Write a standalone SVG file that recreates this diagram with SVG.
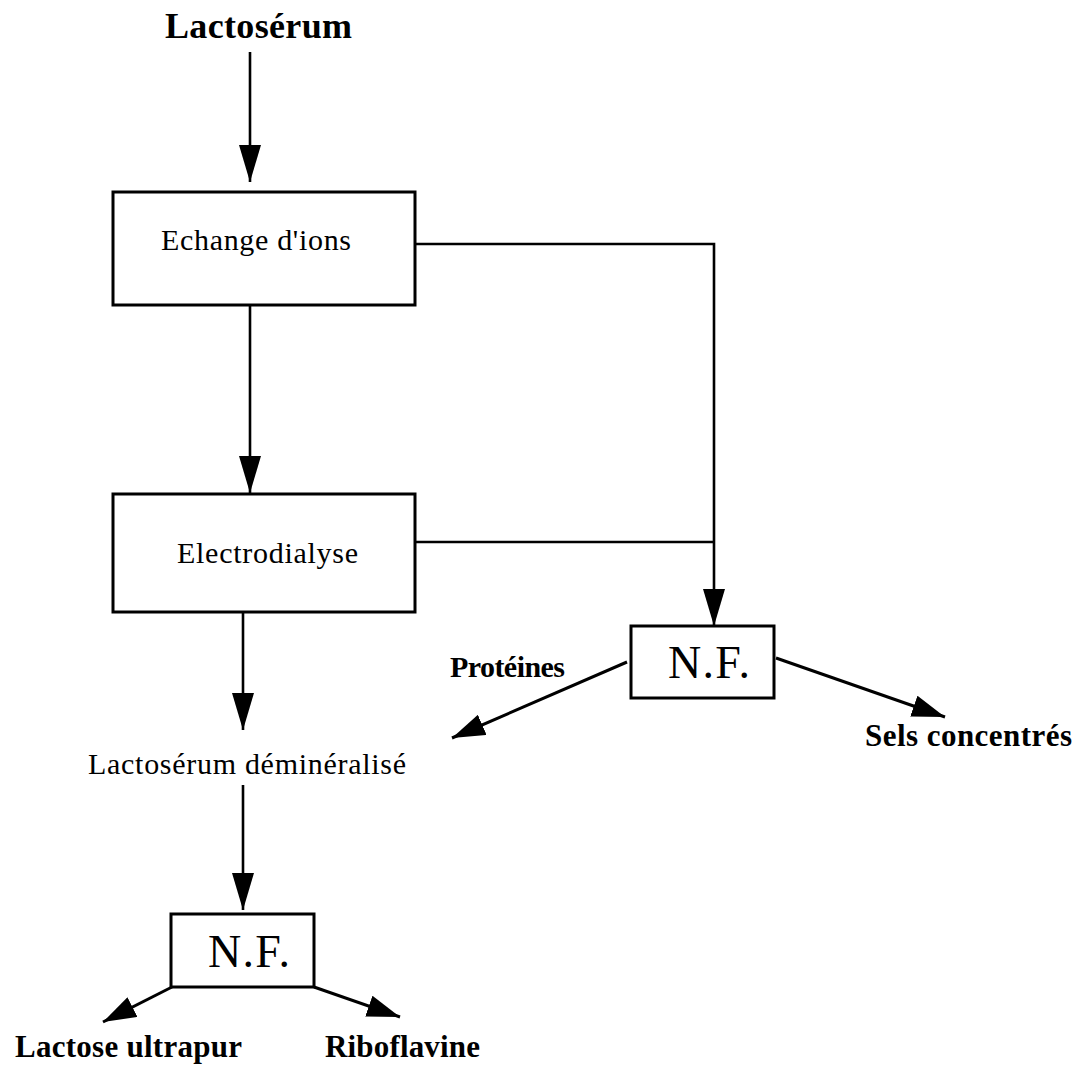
<svg xmlns="http://www.w3.org/2000/svg" width="1084" height="1070" viewBox="0 0 1084 1070">
  <style>
    .box { fill: #ffffff; stroke: #000000; stroke-width: 3; }
    .wire { fill: none; stroke: #000000; stroke-width: 2.6; }
    .arrow { fill: none; stroke: #000000; stroke-width: 2.6; marker-end: url(#head); }
    .arrow-s { fill: none; stroke: #000000; stroke-width: 3; marker-end: url(#head-s); }
    .reg { font-family: "Liberation Serif", "Times New Roman", serif; font-size: 30px; fill: #000000; }
    .big { font-family: "Liberation Serif", "Times New Roman", serif; font-size: 46px; fill: #000000; }
    .bold { font-family: "Liberation Serif", "Times New Roman", serif; font-weight: bold; font-size: 31px; fill: #000000; }
  </style>
  <defs>
    <marker id="head" markerUnits="userSpaceOnUse" viewBox="0 0 37 22" markerWidth="37" markerHeight="22" refX="37" refY="11" orient="auto">
      <path d="M0,0 L37,11 L0,22 Z" fill="#000000"/>
    </marker>
    <marker id="head-s" markerUnits="userSpaceOnUse" viewBox="0 0 33 22" markerWidth="33" markerHeight="22" refX="33" refY="11" orient="auto">
      <path d="M0,0 L33,11 L0,22 Z" fill="#000000"/>
    </marker>
  </defs>

  <rect width="1084" height="1070" fill="#ffffff"/>

  <!-- connectors -->
  <g id="connectors">
    <line class="arrow" x1="250" y1="52" x2="250" y2="182"/>
    <line class="arrow" x1="250" y1="305" x2="250" y2="493"/>
    <polyline class="arrow" points="415,244 714,244 714,626"/>
    <line class="wire" x1="415" y1="542" x2="714" y2="542"/>
    <line class="arrow-s" x1="627" y1="662" x2="452" y2="738"/>
    <line class="arrow-s" x1="776" y1="658" x2="945" y2="717"/>
    <line class="arrow" x1="243" y1="612" x2="243" y2="730"/>
    <line class="arrow" x1="243" y1="785" x2="243" y2="910"/>
    <line class="arrow-s" x1="172" y1="987" x2="103" y2="1022"/>
    <line class="arrow-s" x1="314" y1="987" x2="400" y2="1017"/>
  </g>

  <!-- nodes -->
  <g id="whey-in">
    <text class="bold" x="165" y="38" style="font-size:36px" textLength="187">Lactosérum</text>
  </g>

  <g id="ion-exchange">
    <rect class="box" x="113" y="192" width="302" height="113"/>
    <text class="reg" x="161" y="250" textLength="190">Echange d'ions</text>
  </g>

  <g id="electrodialysis">
    <rect class="box" x="113" y="494" width="302" height="118"/>
    <text class="reg" x="177" y="563" textLength="181">Electrodialyse</text>
  </g>

  <g id="nf-salts">
    <rect class="box" x="631" y="626" width="143" height="72"/>
    <text class="big" x="668" y="678" textLength="82">N.F.</text>
  </g>

  <g id="proteins">
    <text class="bold" x="450" y="677" style="font-size:30px" textLength="115">Protéines</text>
  </g>

  <g id="salts">
    <text class="bold" x="865" y="746" textLength="207">Sels concentrés</text>
  </g>

  <g id="demineralised-whey">
    <text class="reg" x="88" y="774" textLength="318">Lactosérum déminéralisé</text>
  </g>

  <g id="nf-lactose">
    <rect class="box" x="171" y="914" width="143" height="73"/>
    <text class="big" x="208" y="967" textLength="82">N.F.</text>
  </g>

  <g id="lactose">
    <text class="bold" x="15" y="1057" textLength="227">Lactose ultrapur</text>
  </g>

  <g id="riboflavin">
    <text class="bold" x="325" y="1057" textLength="155">Riboflavine</text>
  </g>
</svg>
